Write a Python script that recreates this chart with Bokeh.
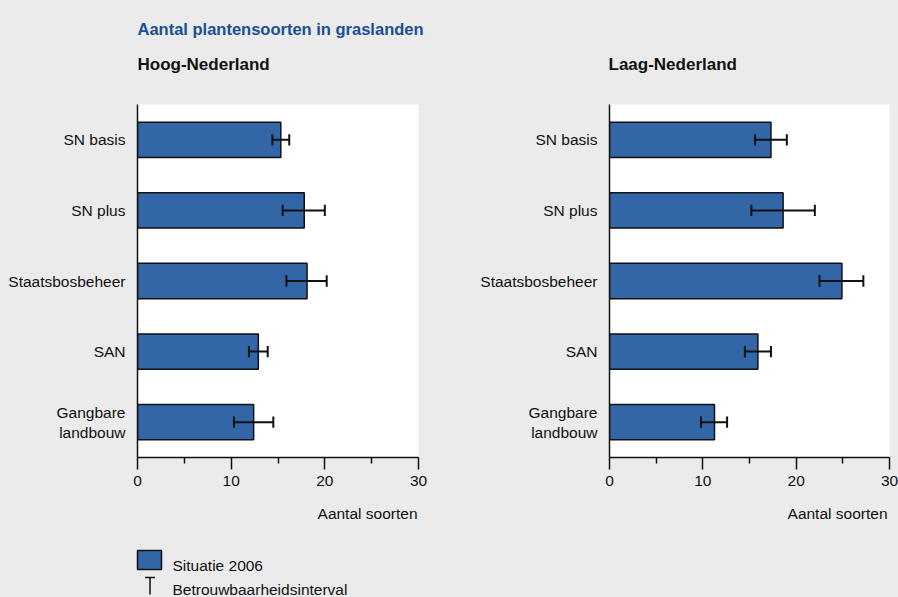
from bokeh.plotting import figure
from bokeh.layouts import column, row
from bokeh.models import Range1d, FixedTicker, ColumnDataSource
from bokeh.core.properties import value
from bokeh.embed import file_html
from bokeh.resources import INLINE

# ---------------- data ----------------
categories = ["SN basis", "SN plus", "Staatsbosbeheer", "SAN", "Gangbare\nlandbouw"]
hoog_mean = [15.3, 17.8, 18.1, 12.9, 12.4]
hoog_lo = [14.4, 15.5, 15.9, 11.9, 10.3]
hoog_hi = [16.2, 20.0, 20.2, 13.9, 14.5]
laag_mean = [17.3, 18.6, 24.9, 15.9, 11.25]
laag_lo = [15.6, 15.2, 22.5, 14.5, 9.8]
laag_hi = [19.0, 22.0, 27.2, 17.3, 12.6]
x_ticks = [0, 10, 20, 30]
x_minor = [5, 15, 25]

title_text = "Aantal plantensoorten in graslanden"
panel_titles = ["Hoog-Nederland", "Laag-Nederland"]
axis_title = "Aantal soorten"
legend_labels = ["Situatie 2006", "Betrouwbaarheidsinterval"]

# ---------------- style ----------------
BG = "#EBEBEB"
BAR = "#3366A6"
INK = "#111111"
TITLE_BLUE = "#1B4F93"
SANS = "Liberation Sans"
FS = "15.5px"
W = 898


def blank(width, height, y_top, y_bottom):
    p = figure(width=width, height=height, x_range=Range1d(0, width),
               y_range=Range1d(y_bottom, y_top), output_backend="svg",
               toolbar_location=None, x_axis_type=None, y_axis_type=None,
               min_border=0, min_border_left=0, min_border_right=0,
               min_border_top=0, min_border_bottom=0)
    p.background_fill_color = BG
    p.border_fill_color = BG
    p.outline_line_color = None
    p.grid.visible = False
    return p


def panel(means, lo, hi, width, b_left, b_right):
    p = figure(width=width, height=401, x_range=Range1d(0, 30),
               y_range=Range1d(len(categories) + 0.5, 0.5),
               output_backend="svg", toolbar_location=None,
               min_border_left=b_left, min_border_right=b_right,
               min_border_top=8, min_border_bottom=40)
    p.background_fill_color = "white"
    p.border_fill_color = BG
    p.outline_line_color = None
    p.grid.visible = False
    ys = list(range(1, len(categories) + 1))
    src = ColumnDataSource(dict(y=ys, m=means, lo=lo, hi=hi,
                                c0=[y - 0.08 for y in ys], c1=[y + 0.08 for y in ys]))
    p.hbar(y="y", left=0, right="m", height=0.5, fill_color=BAR,
           line_color=INK, line_width=1.5, source=src)
    p.segment(x0="lo", x1="hi", y0="y", y1="y", line_color=INK, line_width=2, source=src)
    p.segment(x0="lo", x1="lo", y0="c0", y1="c1", line_color=INK, line_width=2, source=src)
    p.segment(x0="hi", x1="hi", y0="c0", y1="c1", line_color=INK, line_width=2, source=src)

    xa = p.xaxis[0]
    xa.ticker = FixedTicker(ticks=x_ticks, minor_ticks=x_minor)
    xa.major_tick_in = 0
    xa.major_tick_out = 12
    xa.minor_tick_in = 0
    xa.minor_tick_out = 6
    xa.axis_line_width = 1.5
    xa.major_tick_line_width = 1.5
    xa.minor_tick_line_width = 1.5
    xa.axis_line_color = INK
    xa.major_tick_line_color = INK
    xa.minor_tick_line_color = INK
    xa.major_label_standoff = 6
    xa.major_label_text_font = SANS
    xa.major_label_text_font_size = FS
    xa.major_label_text_color = INK

    ya = p.yaxis[0]
    ya.ticker = FixedTicker(ticks=ys)
    ya.major_label_overrides = {y: c for y, c in zip(ys, categories)}
    ya.major_tick_in = 0
    ya.major_tick_out = 0
    ya.minor_tick_in = 0
    ya.minor_tick_out = 0
    ya.axis_line_width = 1.5
    ya.axis_line_color = INK
    ya.major_label_standoff = 12
    ya.major_label_text_font = SANS
    ya.major_label_text_font_size = FS
    ya.major_label_text_color = INK
    return p


# header
head = blank(W, 96, 0, 96)
head.text(x=[137], y=[28], text=[title_text], text_font=value(SANS),
          text_font_style="bold", text_font_size="16.5px", text_color=TITLE_BLUE,
          text_baseline="alphabetic", text_align="left")
head.text(x=[137, 608], y=[64, 64], text=panel_titles, text_font=value(SANS),
          text_font_style="bold", text_font_size="17px", text_color=INK,
          text_baseline="alphabetic", text_align="left")

left = panel(hoog_mean, hoog_lo, hoog_hi, 448, 137, 30)
right = panel(laag_mean, laag_lo, laag_hi, 450, 161, 9)

# footer with axis titles and legend
foot = blank(W, 100, 497, 597)
foot.text(x=[417, 887], y=[513, 513], text=[axis_title, axis_title],
          text_font=value(SANS), text_font_size=FS, text_color=INK,
          text_baseline="alphabetic", text_align="right")
foot.quad(left=[137], right=[161], top=[550], bottom=[569], fill_color=BAR,
          line_color=INK, line_width=1.5)
foot.segment(x0=[144.5, 149.5], x1=[154.5, 149.5], y0=[577, 577], y1=[577, 594],
             line_color=INK, line_width=1.5)
foot.text(x=[172, 172], y=[565, 589], text=legend_labels,
          text_font=value(SANS), text_font_size=FS, text_color=INK,
          text_baseline="alphabetic", text_align="left")

layout = column(head, row(left, right), foot)

TEMPLATE = """{% block preamble %}<style>html,body{margin:0;padding:0;background:#EBEBEB;overflow:hidden;}</style>{% endblock %}"""

open("out.html", "w").write(file_html(layout, INLINE, template=TEMPLATE))
